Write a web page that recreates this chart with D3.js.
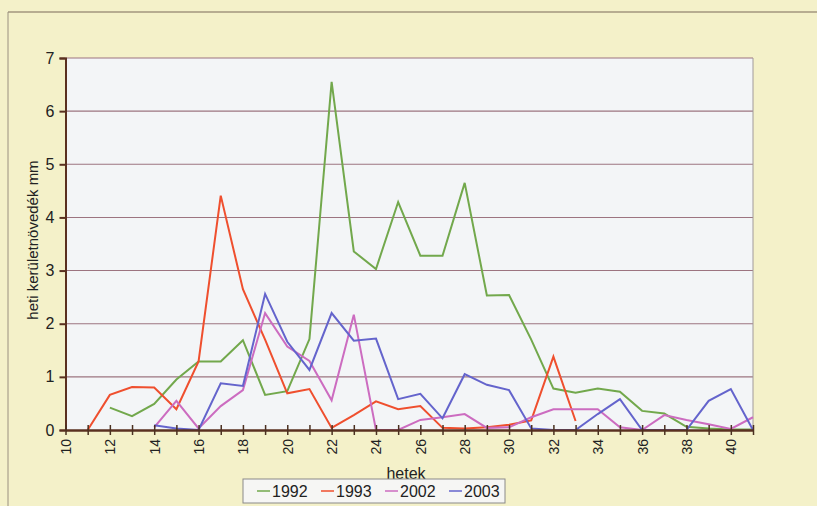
<!DOCTYPE html>
<html>
<head>
<meta charset="utf-8">
<script src="https://cdn.jsdelivr.net/npm/d3@7"></script>
<style>
  body { margin: 0; background: #f4f1c9; }
  svg { display: block; font-family: "Liberation Sans", Arial, sans-serif; }
</style>
</head>
<body>
<div id="chart"></div>
<script>
// weeks 10..41
var weeks = [10, 11, 12, 13, 14, 15, 16, 17, 18, 19, 20, 21, 22, 23, 24, 25,
             26, 27, 28, 29, 30, 31, 32, 33, 34, 35, 36, 37, 38, 39, 40, 41];

var y1992 = [null, null, 0.42, 0.26, 0.49, 0.95, 1.29, 1.29, 1.69, 0.66, 0.73, 1.71, 6.55, 3.36, 3.03, 4.29,
             3.28, 3.28, 4.65, 2.53, 2.54, 1.7, 0.78, 0.70, 0.78, 0.72, 0.36, 0.31, 0.06, 0.03, 0.01, 0.01];
var y1993 = [null, 0, 0.66, 0.81, 0.80, 0.39, 1.29, 4.41, 2.65, 1.7, 0.69, 0.77, 0.04, 0.28, 0.54, 0.39,
             0.45, 0.04, 0.03, 0.05, 0.1, 0.18, 1.38, 0.17, null, null, null, null, null, null, null, null];
var y2002 = [null, null, null, null, 0.05, 0.55, 0.03, 0.45, 0.75, 2.2, 1.57, 1.30, 0.56, 2.17, 0, 0,
             0.19, 0.24, 0.3, 0.04, 0.05, 0.24, 0.39, 0.39, 0.39, 0.05, 0, 0.28, 0.19, 0.11, 0.02, 0.24];
var y2003 = [null, null, null, null, 0.09, 0.03, 0, 0.88, 0.83, 2.56, 1.66, 1.13, 2.2, 1.68, 1.72, 0.58,
             0.68, 0.22, 1.05, 0.85, 0.75, 0.03, 0, 0, 0.3, 0.58, 0, 0, 0, 0.55, 0.77, 0];

var seriesNames = ["1992", "1993", "2002", "2003"];
var seriesColors = ["#72a84c", "#ef4f2e", "#cc6cc0", "#6464cc"];
var yTicks = [0, 1, 2, 3, 4, 5, 6, 7];

var series = [y1992, y1993, y2002, y2003].map(function(vals, i) {
  return {
    name: seriesNames[i],
    color: seriesColors[i],
    points: weeks.map(function(w, j) { return { week: w, value: vals[j] }; })
  };
});

var width = 817, height = 506;
var svg = d3.select("#chart").append("svg")
  .attr("width", width)
  .attr("height", height);

// outer frame of the chart
svg.append("rect").attr("x", 0).attr("y", 0).attr("width", width).attr("height", height)
  .attr("fill", "#f4f1c9");
svg.append("line").attr("x1", 8).attr("x2", width).attr("y1", 12).attr("y2", 12)
  .attr("stroke", "#7a6a5a").attr("stroke-width", 1.2);
svg.append("line").attr("x1", 8).attr("x2", 8).attr("y1", 12).attr("y2", height)
  .attr("stroke", "#9a9080").attr("stroke-width", 1);

var x = d3.scaleLinear().domain([10, 41]).range([65.5, 753]);
var y = d3.scaleLinear().domain([0, 7]).range([430, 58]);

// plot area
svg.append("rect")
  .attr("x", x(10)).attr("y", y(7))
  .attr("width", x(41) - x(10)).attr("height", y(0) - y(7))
  .attr("fill", "#f3f5f7");

// gridlines
svg.append("g").selectAll("line")
  .data(yTicks.filter(function(d) { return d > 0; }))
  .enter().append("line")
    .attr("x1", x(10)).attr("x2", x(41))
    .attr("y1", function(d) { return y(d); })
    .attr("y2", function(d) { return y(d); })
    .attr("stroke", "#9c7480")
    .attr("stroke-width", 1.1);

// right border
svg.append("line").attr("x1", x(41)).attr("x2", x(41)).attr("y1", y(7)).attr("y2", y(0))
  .attr("stroke", "#a09a9a").attr("stroke-width", 1);

var line = d3.line()
  .defined(function(d) { return d.value !== null; })
  .x(function(d) { return x(d.week); })
  .y(function(d) { return y(d.value); });

svg.append("g").selectAll("path")
  .data(series)
  .enter().append("path")
    .attr("d", function(d) { return line(d.points); })
    .attr("fill", "none")
    .attr("stroke", function(d) { return d.color; })
    .attr("stroke-width", 2)
    .attr("stroke-linejoin", "miter");

// y axis
var yAxis = svg.append("g")
  .attr("transform", "translate(" + x(10) + ",0)")
  .call(d3.axisLeft(y).tickValues(yTicks).tickSize(6).tickPadding(5).tickFormat(d3.format("d")));
yAxis.select(".domain").attr("stroke", "#5a3020").attr("stroke-width", 2);
yAxis.selectAll(".tick line").attr("stroke", "#5a3020").attr("stroke-width", 2);
yAxis.selectAll(".tick text").attr("font-size", 16).attr("fill", "#222")
  .attr("font-family", "Liberation Sans, Arial, sans-serif");

// x axis, ticks crossing the line
var xAxis = svg.append("g")
  .attr("transform", "translate(0," + y(0) + ")")
  .call(d3.axisBottom(x).tickValues(weeks).tickSize(5).tickSizeOuter(0)
    .tickFormat(function(d) { return d % 2 === 0 ? d : ""; }));
xAxis.select(".domain").attr("stroke", "#5a3020").attr("stroke-width", 2.5);
xAxis.selectAll(".tick line").attr("y1", -5).attr("stroke", "#4a3020").attr("stroke-width", 1.5);
xAxis.selectAll(".tick text")
  .attr("font-size", 14).attr("fill", "#222")
  .attr("font-family", "Liberation Sans, Arial, sans-serif")
  .attr("text-anchor", "end")
  .attr("transform", "rotate(-90)")
  .attr("x", -9).attr("y", 0).attr("dy", "0.35em");

// axis titles
svg.append("text")
  .attr("x", 406).attr("y", 479)
  .attr("text-anchor", "middle")
  .attr("font-size", 16).attr("fill", "#222")
  .text("hetek");

svg.append("text")
  .attr("transform", "translate(38,240) rotate(-90)")
  .attr("text-anchor", "middle")
  .attr("font-size", 15).attr("fill", "#222")
  .text("heti kerületnövedék mm");

// legend
var legend = svg.append("g").attr("transform", "translate(243,479)");
legend.append("rect").attr("width", 262).attr("height", 24)
  .attr("fill", "#f6f6f4").attr("stroke", "#8a8a8a").attr("stroke-width", 1);
var item = legend.selectAll(".item")
  .data(series)
  .enter().append("g")
    .attr("class", "item")
    .attr("transform", function(d, i) { return "translate(" + (14 + i * 64) + ",12)"; });
item.append("line").attr("x1", 0).attr("x2", 13).attr("y1", 0).attr("y2", 0)
  .attr("stroke", function(d) { return d.color; }).attr("stroke-width", 1.5);
item.append("text").attr("x", 15).attr("dy", "0.36em")
  .attr("font-size", 16).attr("fill", "#222")
  .text(function(d) { return d.name; });
</script>
</body>
</html>
